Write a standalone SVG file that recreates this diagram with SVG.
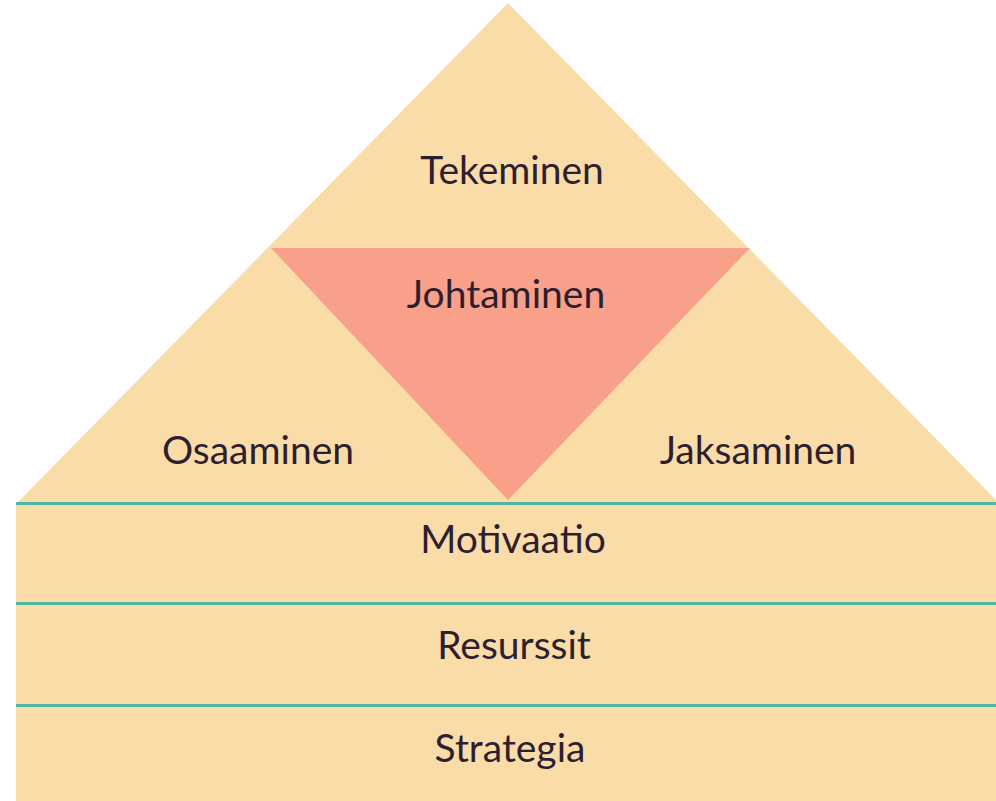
<svg xmlns="http://www.w3.org/2000/svg" width="996" height="801" viewBox="0 0 996 801">
<style>
.beige{fill:#FADCA9}
.salmon{fill:#F8A08A}
.line{stroke:#4DB6A6;stroke-width:3}
.lbl{font-family:Lato,"Open Sans",sans-serif;font-size:39px;fill:#2E1F30;text-anchor:middle}
</style>
<rect width="996" height="801" fill="#ffffff"/>
<g id="roof">
<polygon class="beige" points="508,3 18,502 998,502"/>
</g>
<g id="tekeminen"><text class="lbl" x="512" y="184">Tekeminen</text></g>
<g id="johtaminen">
<polygon class="salmon" points="271,248 750,248 508,500"/>
<text class="lbl" x="506" y="308">Johtaminen</text>
</g>
<g id="osaaminen"><text class="lbl" x="258" y="464">Osaaminen</text></g>
<g id="jaksaminen"><text class="lbl" x="758" y="464">Jaksaminen</text></g>
<g id="motivaatio">
<rect class="beige" x="16" y="503" width="980" height="100"/>
<text class="lbl" x="513" y="553">Motivaatio</text>
</g>
<g id="resurssit">
<rect class="beige" x="16" y="603" width="980" height="102"/>
<text class="lbl" x="514" y="659">Resurssit</text>
</g>
<g id="strategia">
<rect class="beige" x="16" y="705" width="980" height="96"/>
<text class="lbl" x="510" y="762">Strategia</text>
</g>
<g id="connectors">
<line class="line" x1="16" y1="503.5" x2="996" y2="503.5"/>
<line class="line" x1="16" y1="603.5" x2="996" y2="603.5"/>
<line class="line" x1="16" y1="705.5" x2="996" y2="705.5"/>
</g>
</svg>
